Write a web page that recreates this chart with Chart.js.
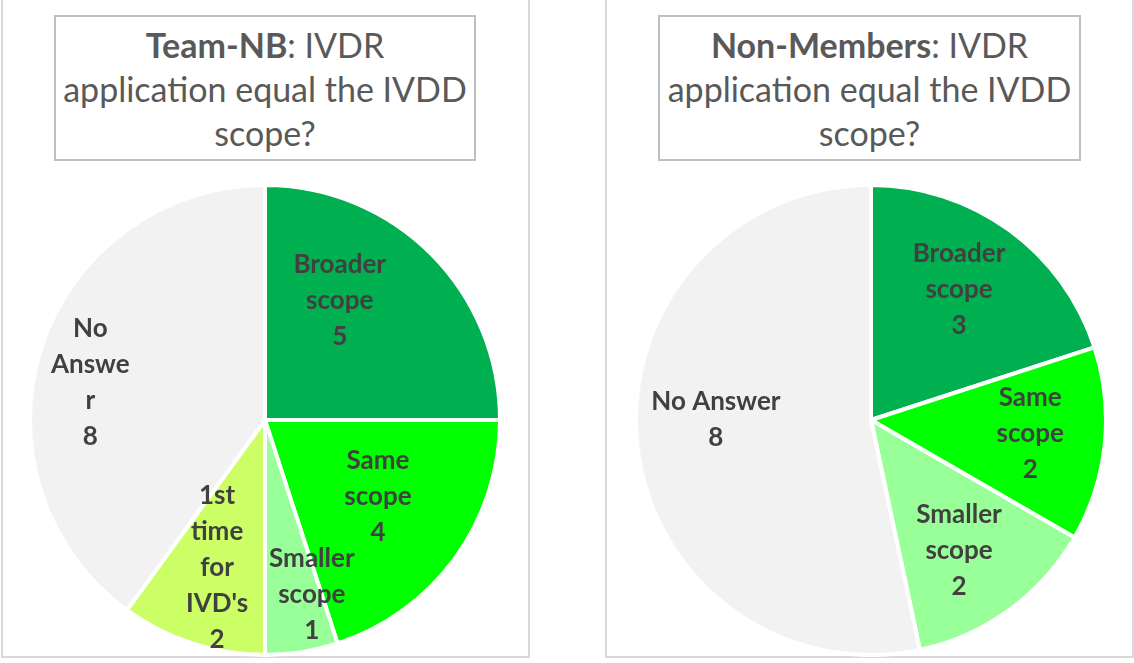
<!DOCTYPE html>
<html>
<head>
<meta charset="utf-8">
<script src="https://cdn.jsdelivr.net/npm/chart.js@4"></script>
<style>
    body { margin: 0; width: 1134px; height: 663px; background: #fff; position: relative; overflow: hidden; font-family: Lato, "Open Sans", sans-serif; }
    .panel { position: absolute; top: -4px; height: 662px; border: 2px solid #d9d9d9; box-sizing: border-box; background: #fff; }
    .title { position: absolute; top: 15px; height: 146px; border: 2px solid #bfbfbf; box-sizing: border-box; color: #595959; font-size: 34px; line-height: 44px; text-align: center; padding-top: 6px; white-space: nowrap; }
    .title b { font-weight: 700; }
    .pie { position: absolute; top: 183px; width: 474px; height: 474px; }
</style>
</head>
<body>
<div class="panel" style="left:1px; width:529px;"></div>
<div class="panel" style="left:605px; width:529px;"></div>
<div class="title" style="left:54px; width:422px;"><b>Team-NB</b>: IVDR<br>application equal the IVDD<br>scope?</div>
<div class="title" style="left:658px; width:423px;"><b>Non-Members</b>: IVDR<br>application equal the IVDD<br>scope?</div>
<div class="pie" style="left:28px;"><canvas id="teamNb"></canvas></div>
<div class="pie" style="left:634px;"><canvas id="nonMembers"></canvas></div>

<script>
// Team-NB answers
const teamLabels = [['Broader', 'scope'], ['Same', 'scope'], ['Smaller', 'scope'], ['1st', 'time', 'for', "IVD's"], ['No', 'Answe', 'r']];
const teamValues = [5, 4, 1, 2, 8];
const teamColors = ['#00B050', '#00FF00', '#99FF99', '#CCFF66', '#F2F2F2'];

// Non-members answers
const nonLabels = [['Broader', 'scope'], ['Same', 'scope'], ['Smaller', 'scope'], ['No Answer']];
const nonValues = [3, 2, 2, 8];
const nonColors = ['#00B050', '#00FF00', '#99FF99', '#F2F2F2'];

// label placement: [radius fraction, angle nudge in degrees]
const teamPlace = [[0.60, -13], [0.58, -2], [0.77, -6], [0.66, 0], [0.76, -6]];
const nonPlace = [[0.67, -2], [0.68, -1], [0.67, 2], [0.66, 6]];

const sliceLabels = {
    id: 'sliceLabels',
    afterDatasetsDraw(chart, args, opts) {
        const ctx = chart.ctx;
        const meta = chart.getDatasetMeta(0);
        const values = chart.data.datasets[0].data;
        ctx.save();
        ctx.font = 'bold 26px Lato, "Open Sans", sans-serif';
        ctx.fillStyle = '#404040';
        ctx.textAlign = 'center';
        ctx.textBaseline = 'middle';
        meta.data.forEach((arc, i) => {
            const p = arc.getProps(['x', 'y', 'startAngle', 'endAngle', 'outerRadius'], true);
            const place = opts.place[i];
            const mid = (p.startAngle + p.endAngle) / 2 + place[1] * Math.PI / 180;
            const r = p.outerRadius * place[0];
            const cx = p.x + Math.cos(mid) * r;
            const cy = p.y + Math.sin(mid) * r;
            const lines = chart.data.labels[i].concat([String(values[i])]);
            const lh = 36;
            lines.forEach((t, k) => {
                ctx.fillText(t, cx, cy + (k - (lines.length - 1) / 2) * lh);
            });
        });
        ctx.restore();
    }
};

function makePie(id, labels, values, colors, place) {
    new Chart(document.getElementById(id), {
        type: 'pie',
        data: {
            labels: labels,
            datasets: [{ data: values, backgroundColor: colors, borderColor: '#ffffff', borderWidth: 4 }]
        },
        options: {
            responsive: true,
            maintainAspectRatio: true,
            aspectRatio: 1,
            animation: false,
            layout: { padding: 0 },
            plugins: {
                legend: { display: false },
                tooltip: { enabled: false },
                sliceLabels: { place: place }
            }
        },
        plugins: [sliceLabels]
    });
}

makePie('teamNb', teamLabels, teamValues, teamColors, teamPlace);
makePie('nonMembers', nonLabels, nonValues, nonColors, nonPlace);
</script>
</body>
</html>
